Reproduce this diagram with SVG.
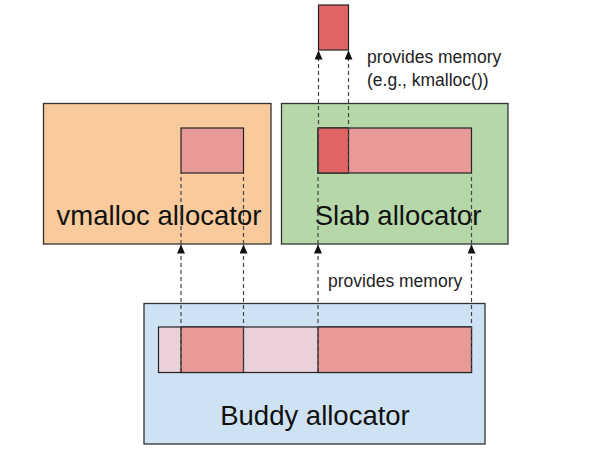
<svg xmlns="http://www.w3.org/2000/svg" width="595" height="457" viewBox="0 0 595 457">
<style>
.box{stroke:#333;stroke-width:1.3}
.seg{stroke:#222;stroke-width:1.2}
.big{font-family:"Liberation Sans",Arial,sans-serif;font-size:27.5px;fill:#111;text-anchor:middle}
.small{font-family:"Liberation Sans",Arial,sans-serif;font-size:17.5px;fill:#222}
.dash{stroke:#444;stroke-width:1.2;stroke-dasharray:4,3;fill:none}
</style>
<defs>
<marker id="ah" markerWidth="9" markerHeight="8" refX="9" refY="4" orient="auto" markerUnits="userSpaceOnUse" viewBox="0 0 9 8">
<path d="M0,0 L9,4 L0,8 Z" fill="#111"/>
</marker>
</defs>
<rect width="595" height="457" fill="#fff"/>
<g id="vmalloc">
<rect class="box" x="43.5" y="103.5" width="227.5" height="140.5" fill="#f9cb9c"/>
<rect class="seg" x="181" y="128" width="62.5" height="45" fill="#ea9999"/>
<text class="big" x="159" y="225">vmalloc allocator</text>
</g>
<g id="slab">
<rect class="box" x="281.5" y="103.5" width="226.5" height="140.5" fill="#b6d7a8"/>
<rect class="seg" x="318" y="128" width="153.5" height="45" fill="#ea9999"/>
<rect class="seg" x="318" y="128" width="30.5" height="45" fill="#e06666"/>
<text class="big" x="398" y="225">Slab allocator</text>
</g>
<g id="buddy">
<rect class="box" x="144" y="303.5" width="341" height="140.5" fill="#cfe2f3"/>
<rect class="seg" x="158.5" y="327" width="313" height="45.5" fill="#ead1dc"/>
<rect class="seg" x="181" y="327" width="62.5" height="45.5" fill="#ea9999"/>
<rect class="seg" x="318" y="327" width="153.5" height="45.5" fill="#ea9999"/>
<text class="big" x="315" y="425">Buddy allocator</text>
</g>
<g id="obj">
<rect class="seg" x="318.5" y="5" width="30" height="45" fill="#e06666"/>
</g>
<g id="connectors">
<line class="dash" x1="181" y1="372" x2="181" y2="244.5" marker-end="url(#ah)"/>
<line class="dash" x1="181" y1="244" x2="181" y2="173"/>
<line class="dash" x1="243.5" y1="372" x2="243.5" y2="244.5" marker-end="url(#ah)"/>
<line class="dash" x1="243.5" y1="244" x2="243.5" y2="173"/>
<line class="dash" x1="318" y1="372" x2="318" y2="244.5" marker-end="url(#ah)"/>
<line class="dash" x1="318" y1="244" x2="318" y2="173"/>
<line class="dash" x1="471.5" y1="372" x2="471.5" y2="244.5" marker-end="url(#ah)"/>
<line class="dash" x1="471.5" y1="244" x2="471.5" y2="173"/>
<line class="dash" x1="318.5" y1="173" x2="318.5" y2="50.5" marker-end="url(#ah)"/>
<line class="dash" x1="348.5" y1="173" x2="348.5" y2="50.5" marker-end="url(#ah)"/>
</g>
<text class="small" x="367" y="63">provides memory</text>
<text class="small" x="367" y="86">(e.g., kmalloc())</text>
<text class="small" x="328" y="287">provides memory</text>
</svg>
